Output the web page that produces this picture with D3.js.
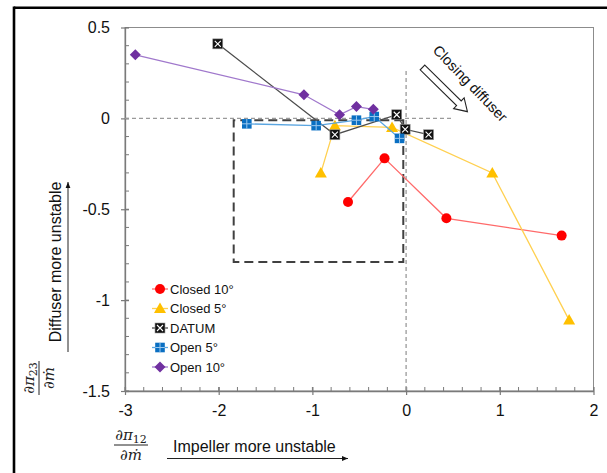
<!DOCTYPE html>
<html>
<head>
<meta charset="utf-8">
<script src="https://cdn.jsdelivr.net/npm/d3@7"></script>
<style>
  body { margin: 0; background: #fff; }
  svg { display: block; font-family: "Liberation Sans", Arial, sans-serif; }
</style>
</head>
<body>
<div id="chart"></div>
<script>
// series values
const seriesNames = ["Closed 10°", "Closed 5°", "DATUM", "Open 5°", "Open 10°"];
const closed10X = [-0.62, -0.23, 0.43, 1.66];
const closed10Y = [-0.46, -0.22, -0.55, -0.645];
const closed5X = [-0.91, -0.76, -0.15, 0.92, 1.74];
const closed5Y = [-0.30, -0.04, -0.05, -0.30, -1.11];
const datumX = [-2.01, -0.76, -0.10, -0.01, 0.24];
const datumY = [0.41, -0.09, 0.02, -0.06, -0.09];
const open5X = [-1.70, -0.96, -0.53, -0.34, -0.07];
const open5Y = [-0.03, -0.04, -0.01, 0.01, -0.11];
const open10X = [-2.89, -1.09, -0.71, -0.53, -0.35];
const open10Y = [0.35, 0.13, 0.02, 0.065, 0.05];

const xTicks = [-3, -2, -1, 0, 1, 2];
const yTicks = [-1.5, -1, -0.5, 0, 0.5];

// dashed box marking the region where both stages get more unstable
const boxX = [-1.84, -0.03];
const boxY = [-0.01, -0.79];

const W = 607, H = 473;
const svg = d3.select("#chart").append("svg").attr("width", W).attr("height", H);

const x = d3.scaleLinear().domain([-3, 2]).range([125, 593.5]);
const y = d3.scaleLinear().domain([-1.5, 0.5]).range([391, 27.5]);

// outer black frame (only top and left are visible)
svg.append("line").attr("x1", 14).attr("x2", W).attr("y1", 7.8).attr("y2", 7.8)
  .attr("stroke", "#000").attr("stroke-width", 2.6);
svg.append("line").attr("x1", 14).attr("x2", 14).attr("y1", 6.5).attr("y2", H)
  .attr("stroke", "#000").attr("stroke-width", 2.6);

// plot area border
svg.append("rect")
  .attr("x", x(-3)).attr("y", y(0.5))
  .attr("width", x(2) - x(-3)).attr("height", y(-1.5) - y(0.5))
  .attr("fill", "none").attr("stroke", "#8c8c8c").attr("stroke-width", 1);

const axisColor = "#7a7a7a";
const fmt = d => String(d);

// x axis
const gx = svg.append("g")
  .attr("transform", `translate(0,${y(-1.5)})`)
  .call(d3.axisBottom(x).tickValues(xTicks).tickFormat(fmt)
    .tickSizeInner(4).tickSizeOuter(0).tickPadding(10));
gx.selectAll("line").attr("y1", -4);
d3.range(-3, 2.001, 0.2).forEach(v => {
  gx.append("line").attr("x1", x(v)).attr("x2", x(v)).attr("y1", 0).attr("y2", -4)
    .attr("stroke", axisColor);
});

// y axis
const gy = svg.append("g")
  .attr("transform", `translate(${x(-3)},0)`)
  .call(d3.axisLeft(y).tickValues(yTicks).tickFormat(fmt)
    .tickSizeInner(4).tickSizeOuter(0).tickPadding(11));
gy.selectAll("line").attr("x1", 4);
d3.range(-1.5, 0.5001, 0.1).forEach(v => {
  gy.append("line").attr("x1", 0).attr("x2", 4).attr("y1", y(v)).attr("y2", y(v))
    .attr("stroke", axisColor);
});

[gx, gy].forEach(g => {
  g.select(".domain").attr("stroke", axisColor).attr("stroke-width", 1.3);
  g.selectAll(".tick line").attr("stroke", axisColor).attr("stroke-width", 1.2);
  g.selectAll("text").attr("font-size", 16).attr("fill", "#111")
    .attr("font-family", '"Liberation Sans", Arial, sans-serif');
});

// zero reference lines
svg.append("line").attr("x1", x(-3)).attr("x2", x(0.5)).attr("y1", y(0)).attr("y2", y(0))
  .attr("stroke", "#9a9a9a").attr("stroke-width", 1.3).attr("stroke-dasharray", "4,3");
svg.append("line").attr("x1", x(0)).attr("x2", x(0)).attr("y1", y(0.26)).attr("y2", y(-1.5))
  .attr("stroke", "#9a9a9a").attr("stroke-width", 1.3).attr("stroke-dasharray", "4,3");

// dashed box
svg.append("path")
  .attr("d", `M${x(boxX[1])},${y(boxY[0])}H${x(boxX[0])}V${y(boxY[1])}H${x(boxX[1])}Z`)
  .attr("fill", "none").attr("stroke", "#404040").attr("stroke-width", 2)
  .attr("stroke-dasharray", "9,5");

// marker drawers
function drawMarker(g, kind, cx, cy) {
  if (kind === "circle") {
    g.append("circle").attr("cx", cx).attr("cy", cy).attr("r", 5).attr("fill", "#ff0000");
  } else if (kind === "triangle") {
    g.append("path").attr("transform", `translate(${cx},${cy})`)
      .attr("d", "M0,-6L6,4.5L-6,4.5Z").attr("fill", "#ffc000");
  } else if (kind === "datum") {
    const s = 5;
    g.append("rect").attr("x", cx - s).attr("y", cy - s).attr("width", 2 * s).attr("height", 2 * s)
      .attr("fill", "#111").attr("stroke", "#9a9a9a").attr("stroke-width", 0.6);
    g.append("path")
      .attr("d", `M${cx - 3},${cy - 3}L${cx + 3},${cy + 3}M${cx + 3},${cy - 3}L${cx - 3},${cy + 3}`)
      .attr("stroke", "#fff").attr("stroke-width", 1.1);
  } else if (kind === "square") {
    const s = 4.8;
    g.append("rect").attr("x", cx - s).attr("y", cy - s).attr("width", 2 * s).attr("height", 2 * s)
      .attr("fill", "#0a6fc2");
    g.append("path")
      .attr("d", `M${cx},${cy - s}V${cy + s}M${cx - s},${cy}H${cx + s}`)
      .attr("stroke", "#9cc8ee").attr("stroke-width", 1);
  } else if (kind === "diamond") {
    g.append("path").attr("transform", `translate(${cx},${cy})`)
      .attr("d", "M0,-5.5L5.5,0L0,5.5L-5.5,0Z").attr("fill", "#7030a0");
  }
}

const series = [
  { name: seriesNames[0], xs: closed10X, ys: closed10Y, kind: "circle", line: "#ff6a6a" },
  { name: seriesNames[1], xs: closed5X, ys: closed5Y, kind: "triangle", line: "#ffd050" },
  { name: seriesNames[2], xs: datumX, ys: datumY, kind: "datum", line: "#4d4d4d" },
  { name: seriesNames[3], xs: open5X, ys: open5Y, kind: "square", line: "#5aa5e0" },
  { name: seriesNames[4], xs: open10X, ys: open10Y, kind: "diamond", line: "#a078cc" }
];

const line = d3.line().x(d => x(d[0])).y(d => y(d[1]));

series.forEach(s => {
  const pts = s.xs.map((v, i) => [v, s.ys[i]]);
  const g = svg.append("g");
  g.append("path").datum(pts).attr("d", line)
    .attr("fill", "none").attr("stroke", s.line).attr("stroke-width", 1.3);
  pts.forEach(p => drawMarker(g, s.kind, x(p[0]), y(p[1])));
});

// legend
const legend = svg.append("g").attr("transform", "translate(160,289)");
series.forEach((s, i) => {
  const g = legend.append("g").attr("transform", `translate(0,${i * 19.5})`);
  g.append("line").attr("x1", -8).attr("x2", 8).attr("y1", 0).attr("y2", 0)
    .attr("stroke", s.line).attr("stroke-width", 1.3);
  drawMarker(g, s.kind, 0, 0);
  g.append("text").attr("x", 10).attr("y", 4.6).attr("font-size", 13).attr("fill", "#111")
    .text(s.name);
});

// "Closing diffuser" annotation with hollow arrow
const L = 63;
const arrowPath = `M0,-3.3H${L - 12}V-7.5L${L},0L${L - 12},7.5V3.3H0Z`;
svg.append("path")
  .attr("transform", "translate(422.5,67.5) rotate(44.5)")
  .attr("d", arrowPath).attr("fill", "#fff").attr("stroke", "#222").attr("stroke-width", 1.1);
svg.append("text")
  .attr("transform", "translate(432,51) rotate(46)")
  .attr("font-size", 14.5).attr("fill", "#111")
  .text("Closing diffuser");

// axis titles
svg.append("text").attr("x", 173).attr("y", 452).attr("font-size", 16).attr("fill", "#111")
  .text("Impeller more unstable");
svg.append("defs").append("marker")
  .attr("id", "ah").attr("viewBox", "0 0 10 10").attr("refX", 10).attr("refY", 5)
  .attr("markerWidth", 6).attr("markerHeight", 6).attr("orient", "auto")
  .append("path").attr("d", "M0,1L10,5L0,9Z").attr("fill", "#111");
svg.append("line").attr("x1", 167).attr("x2", 348).attr("y1", 458.5).attr("y2", 458.5)
  .attr("stroke", "#222").attr("stroke-width", 1).attr("marker-end", "url(#ah)");

svg.append("text")
  .attr("transform", "translate(61,262) rotate(-90)")
  .attr("text-anchor", "middle").attr("font-size", 16).attr("fill", "#111")
  .text("Diffuser more unstable");
svg.append("line").attr("x1", 68).attr("x2", 68).attr("y1", 352).attr("y2", 182)
  .attr("stroke", "#222").attr("stroke-width", 1).attr("marker-end", "url(#ah)");

// fractions d(pi)/d(mdot)
function fraction(tx, ty, rot, sub) {
  const g = svg.append("g").attr("transform", `translate(${tx},${ty}) rotate(${rot})`)
    .attr("font-family", '"DejaVu Serif", "Liberation Serif", serif')
    .attr("font-style", "italic").attr("fill", "#222");
  const num = g.append("text").attr("x", 0).attr("y", -5).attr("text-anchor", "middle")
    .attr("font-size", 15);
  num.append("tspan").text("∂π");
  num.append("tspan").attr("font-size", 11).attr("dy", 3).attr("font-style", "normal").text(sub);
  g.append("line").attr("x1", -17).attr("x2", 17).attr("y1", 0).attr("y2", 0)
    .attr("stroke", "#222").attr("stroke-width", 1);
  g.append("text").attr("x", 0).attr("y", 15).attr("text-anchor", "middle")
    .attr("font-size", 15).text("∂ṁ");
}
fraction(131, 445, 0, "12");
fraction(39, 378, -90, "23");
</script>
</body>
</html>
